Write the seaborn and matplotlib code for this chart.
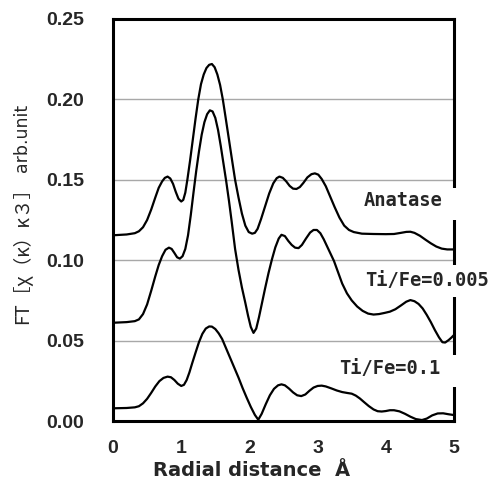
import numpy as np
import pandas as pd
import seaborn as sns
import matplotlib.pyplot as plt
from matplotlib.patches import Rectangle

# radial distance (A) and FT magnitude, one pair of lists per sample
anatase_r = [0, 0.2, 0.32, 0.38, 0.44, 0.50, 0.56, 0.62, 0.67, 0.72, 0.76, 0.80, 0.84,
             0.88, 0.92, 0.96, 1.00, 1.03, 1.06, 1.09, 1.13, 1.17, 1.21, 1.25, 1.29,
             1.33, 1.37, 1.41, 1.45, 1.49, 1.53, 1.57, 1.61, 1.65, 1.70, 1.75, 1.79,
             1.84, 1.89, 1.94, 1.99, 2.04, 2.08, 2.12, 2.17, 2.23, 2.29, 2.35, 2.40,
             2.44, 2.49, 2.54, 2.59, 2.64, 2.69, 2.74, 2.79, 2.85, 2.91, 2.96, 3.01,
             3.06, 3.12, 3.18, 3.25, 3.32, 3.39, 3.46, 3.53, 3.65, 3.82, 4.00, 4.12,
             4.22, 4.30, 4.36, 4.42, 4.50, 4.58, 4.66, 4.74, 4.82, 4.90, 5.00]
anatase_ft = [0.1155, 0.1160, 0.1168, 0.1180, 0.1205, 0.1250, 0.1315, 0.1390, 0.1450,
              0.1490, 0.1512, 0.1520, 0.1508, 0.1475, 0.1425, 0.1382, 0.1365, 0.1375,
              0.1420, 0.1500, 0.1620, 0.1750, 0.1880, 0.2000, 0.2095, 0.2155, 0.2195,
              0.2215, 0.2220, 0.2200, 0.2155, 0.2090, 0.2000, 0.1890, 0.1750, 0.1610,
              0.1500, 0.1390, 0.1290, 0.1215, 0.1175, 0.1165, 0.1170, 0.1195, 0.1255,
              0.1335, 0.1415, 0.1478, 0.1510, 0.1520, 0.1512, 0.1490, 0.1462, 0.1445,
              0.1443, 0.1455, 0.1480, 0.1515, 0.1535, 0.1540, 0.1532, 0.1505, 0.1460,
              0.1400, 0.1330, 0.1265, 0.1215, 0.1188, 0.1175, 0.1165, 0.1163, 0.1162,
              0.1163, 0.1170, 0.1176, 0.1177, 0.1170, 0.1152, 0.1128, 0.1105, 0.1085,
              0.1072, 0.1067, 0.1067]

fe005_r = [0, 0.2, 0.32, 0.38, 0.44, 0.50, 0.56, 0.62, 0.67, 0.72, 0.77, 0.82, 0.86,
           0.90, 0.94, 0.98, 1.02, 1.06, 1.10, 1.14, 1.18, 1.22, 1.26, 1.30, 1.34,
           1.38, 1.42, 1.46, 1.50, 1.54, 1.58, 1.62, 1.66, 1.70, 1.74, 1.79, 1.84,
           1.89, 1.94, 1.98, 2.02, 2.06, 2.10, 2.14, 2.18, 2.23, 2.28, 2.33, 2.38,
           2.43, 2.47, 2.52, 2.57, 2.62, 2.67, 2.72, 2.77, 2.83, 2.89, 2.94, 2.99,
           3.04, 3.09, 3.14, 3.19, 3.24, 3.30, 3.36, 3.43, 3.50, 3.58, 3.66, 3.74,
           3.82, 3.90, 3.98, 4.06, 4.14, 4.22, 4.30, 4.36, 4.42, 4.48, 4.54, 4.60,
           4.66, 4.72, 4.78, 4.83, 4.87, 4.92, 4.96, 5.00]
fe005_ft = [0.0611, 0.0615, 0.0621, 0.0632, 0.0665, 0.0725, 0.0810, 0.0900, 0.0970,
            0.1025, 0.1065, 0.1078, 0.1070, 0.1045, 0.1018, 0.1010, 0.1025, 0.1070,
            0.1155, 0.1280, 0.1420, 0.1555, 0.1675, 0.1780, 0.1858, 0.1908, 0.1932,
            0.1925, 0.1885, 0.1810, 0.1710, 0.1600, 0.1490, 0.1370, 0.1240, 0.1070,
            0.0940, 0.0830, 0.0735, 0.0655, 0.0585, 0.0548, 0.0575, 0.0645, 0.0725,
            0.0825, 0.0920, 0.1005, 0.1080, 0.1135, 0.1158, 0.1150, 0.1120, 0.1095,
            0.1078, 0.1075, 0.1095, 0.1135, 0.1172, 0.1188, 0.1188, 0.1168, 0.1130,
            0.1085, 0.1040, 0.0995, 0.0925, 0.0855, 0.0794, 0.0750, 0.0712, 0.0685,
            0.0668, 0.0662, 0.0665, 0.0672, 0.0680, 0.0695, 0.0718, 0.0742, 0.0752,
            0.0745, 0.0728, 0.0700, 0.0660, 0.0615, 0.0565, 0.0520, 0.0490, 0.0488,
            0.0503, 0.0518, 0.0535]

fe01_r = [0, 0.2, 0.32, 0.38, 0.44, 0.50, 0.56, 0.62, 0.68, 0.74, 0.80, 0.85, 0.90,
          0.95, 1.00, 1.04, 1.08, 1.12, 1.16, 1.21, 1.26, 1.31, 1.36, 1.41, 1.45,
          1.50, 1.55, 1.60, 1.66, 1.72, 1.78, 1.84, 1.90, 1.96, 2.02, 2.08, 2.13,
          2.18, 2.24, 2.30, 2.36, 2.42, 2.47, 2.52, 2.58, 2.64, 2.70, 2.76, 2.82,
          2.88, 2.94, 3.00, 3.06, 3.12, 3.20, 3.28, 3.36, 3.44, 3.50, 3.56, 3.62,
          3.68, 3.75, 3.82, 3.88, 3.94, 4.00, 4.06, 4.12, 4.20, 4.28, 4.36, 4.44,
          4.53, 4.60, 4.68, 4.76, 4.84, 4.92, 5.00]
fe01_ft = [0.0079, 0.0081, 0.0085, 0.0092, 0.0110, 0.0138, 0.0175, 0.0215, 0.0248,
           0.0268, 0.0276, 0.0272, 0.0255, 0.0232, 0.0218, 0.0225, 0.0255, 0.0302,
           0.0358, 0.0425, 0.0490, 0.0542, 0.0575, 0.0588, 0.0587, 0.0572, 0.0545,
           0.0510, 0.0450, 0.0390, 0.0330, 0.0270, 0.0205, 0.0145, 0.0088, 0.0038,
           0.0008, 0.0045, 0.0105, 0.0160, 0.0200, 0.0222, 0.0228, 0.0222, 0.0202,
           0.0178, 0.0160, 0.0155, 0.0165, 0.0188, 0.0208, 0.0218, 0.0220, 0.0215,
           0.0203, 0.0190, 0.0180, 0.0174, 0.0170, 0.0158, 0.0140, 0.0118, 0.0093,
           0.0072, 0.0061, 0.0059, 0.0062, 0.0067, 0.0067, 0.0060, 0.0045, 0.0027,
           0.0012, 0.0006, 0.0015, 0.0035, 0.0047, 0.0048, 0.0042, 0.0037]

sample_names = ['Anatase', 'Ti/Fe=0.005', 'Ti/Fe=0.1']
# label anchor (x, y) in data units
label_pos = [(4.25, 0.137), (4.60, 0.0875), (4.06, 0.0325)]
# where the right frame is broken behind each label (data y)
spine_gaps = [(0.125, 0.145), (0.0771, 0.097), (0.0211, 0.041)]

yticks = [0.00, 0.05, 0.10, 0.15, 0.20, 0.25]
xticks = [0, 1, 2, 3, 4, 5]

sns.set_style('white')

fig = plt.figure(figsize=(4.92, 4.87), dpi=100)
ax = fig.add_axes([0.2297, 0.1355, 0.6931, 0.8255])

for r, ft in [(anatase_r, anatase_ft), (fe005_r, fe005_ft), (fe01_r, fe01_ft)]:
    df = pd.DataFrame({'r': r, 'ft': ft})
    sns.lineplot(data=df, x='r', y='ft', color='black', linewidth=1.6, sort=False, ax=ax)

ax.set_xlim(0, 5)
ax.set_ylim(0, 0.25)
ax.set_xticks(xticks)
ax.set_yticks(yticks)
ax.set_xticklabels([str(t) for t in xticks])
ax.set_yticklabels(['%.2f' % t for t in yticks])
for t in yticks[1:-1]:
    ax.axhline(t, color='#a8a8a8', linewidth=1.0, zorder=0)

for s in ax.spines.values():
    s.set_linewidth(2.2)
    s.set_color('black')

ax.tick_params(axis='x', direction='in', length=6, width=2, pad=14, labelsize=14)
ax.tick_params(axis='y', length=0, pad=21, labelsize=14)
for lab in ax.get_xticklabels() + ax.get_yticklabels():
    lab.set_fontweight('bold')
    lab.set_family('Liberation Sans')

ax.set_xlabel('')
ax.set_ylabel('')

# white patches that break the right frame behind the labels
trans = ax.get_yaxis_transform()
for y0, y1 in spine_gaps:
    ax.add_patch(Rectangle((0.97, y0), 0.06, y1 - y0, transform=trans, fc='white',
                           ec='none', clip_on=False, zorder=4))

for name, (lx, ly) in zip(sample_names, label_pos):
    ax.text(lx, ly, name, ha='center', va='center', fontsize=13.5, fontweight='bold',
            family='DejaVu Sans Mono', clip_on=False, zorder=5,
            bbox=dict(boxstyle='square,pad=0.3', fc='white', ec='none'))

fig.text(252 / 492, 1 - 470 / 487, 'Radial distance  Å', ha='center', va='center',
         fontsize=14, fontweight='bold', family='DejaVu Sans')
fig.text(22 / 492, 1 - 251 / 487, 'FT［χ（κ）κ３］', rotation=90, ha='center', va='center',
         fontsize=13.5, family=['Noto Sans CJK JP', 'DejaVu Sans'])
fig.text(22 / 492, 1 - 138 / 487, 'arb.unit', rotation=90, ha='center', va='center',
         fontsize=12.5, family='DejaVu Sans')

fig.savefig('out.png', dpi=100)
